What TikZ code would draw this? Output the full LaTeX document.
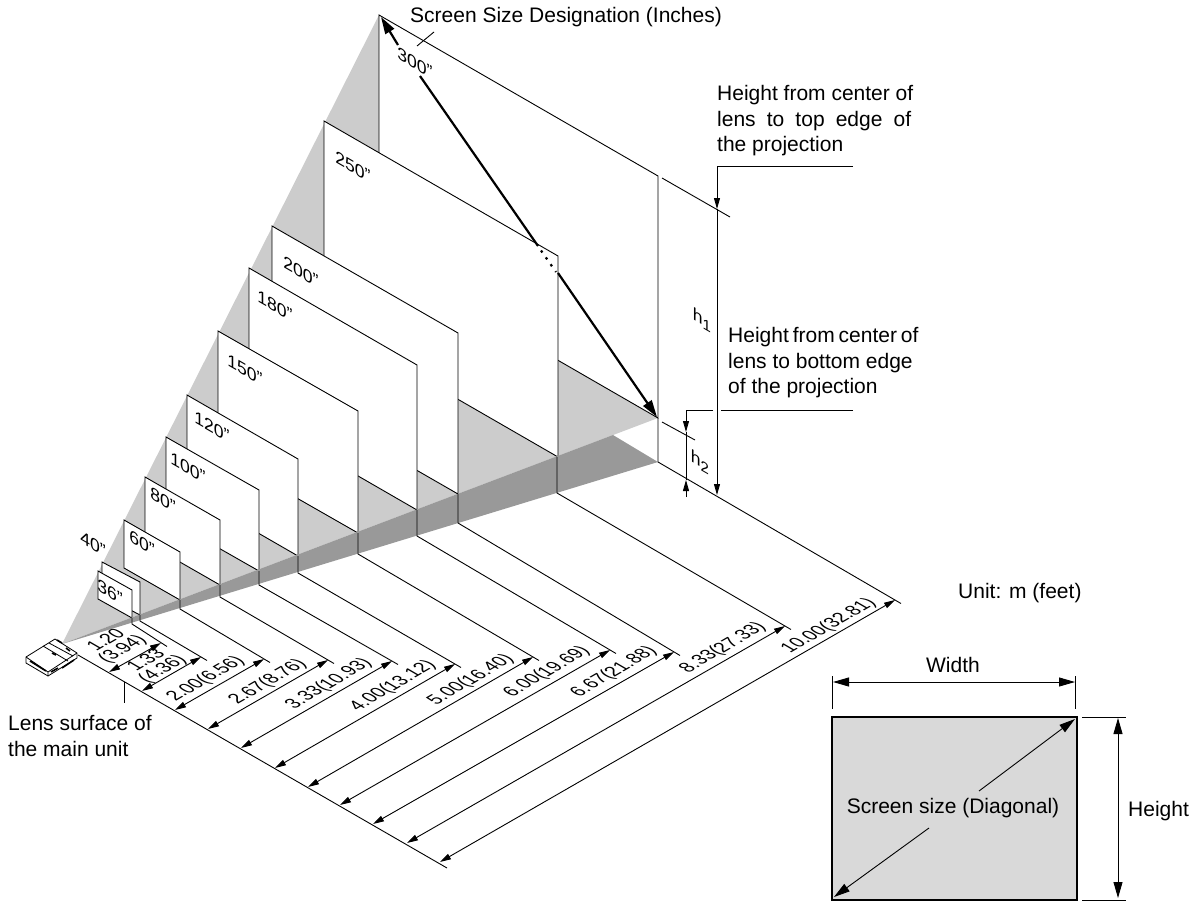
\documentclass[tikz,border=0pt]{standalone}
\usepackage{fontspec}
\setmainfont{Liberation Sans}
\usetikzlibrary{arrows.meta}

\tikzset{
    thin line/.style={line width=.9pt},
    screen face/.style={draw,fill=white,line width=.9pt,line join=miter},
    label text/.style={inner sep=0pt,align=center,font=\fontsize{17.6}{16.5}\selectfont},
    floor text/.style={label text,cm={.866,.5,-.97,.56,(0,0)}},
    wall text/.style={label text,yslant=-.577},
    note text/.style={inner sep=0pt,align=left,font=\fontsize{21}{25.5}\selectfont},
    size arrow/.style={line width=.9pt,>={Triangle[length=16pt,width=9pt]}},
    ray arrow/.style={line width=2.2pt,>={Triangle[length=17pt,width=10pt]}}
}

\begin{document}
\begin{tikzpicture}[x=1pt,y=-1pt,>={Triangle[length=11pt,width=6pt]}]
    \useasboundingbox (0,0) rectangle (1203,902);
    \coordinate (apex) at (62,644);

    % light wedge and the screens, from back to front
    \fill[black!20] (apex) -- (379,15) -- (379,257) -- (658,418) -- cycle;
    \foreach \name/\lx/\ty/\rx/\ry/\by in {
        300/379/15/658/176/418,250/324/121/558/256/457,200/272/226/458/333/494,
        180/249/268/417/365/510,150/218/331/358/411/533,120/187/395/298/459/556,
        100/166/437/259/490/571,80/145/477/220/520/585,60/124/520/180/552/600,
        40/102/562/140/582/615,36/98/571/132/590/618}
        \draw[screen face] (\lx,\ty) -- (\rx,\ry) -- (\rx,\by) -- (\lx,\ty+\by-\ry) -- cycle;
    \fill[black!40] (apex) -- (613,435) -- (658,462) -- cycle;

    % distances
    \draw[thin line] (78,655) -- (447,868);
    \draw[thin line] (124,682) -- (124,703);
    \foreach \rx/\by/\fy/\tx/\ty/\ax/\ay in {
        132/618/624/161/643/109/672,140/615/621/201/657/142/691,
        180/600/609/264/659/175/710,220/585/597/328/660/208/729,
        259/571/585/392/661/241/748,298/556/573/455/664/275/768,
        358/533/554/533/657/308/787,417/510/536/610/650/340/805,
        458/494/523/674/652/373/824,557/457/493/785/626/407/843,
        658/418/462/895/600/440/862} {
        \draw[thin line] (\rx,\by) -- (\rx,\fy) -- (\tx+6,\ty+3.5);
        \draw[thin line,<->] (\ax,\ay) -- (\tx,\ty);
    }
    \foreach \name/\lx/\ly/\dist in {
        d200/206/679/2.00(6.56),d267/268/682/2.67(8.76),d333/329/684/3.33(10.93),
        d400/393/686/4.00(13.12),d500/471/680/5.00(16.40),d600/547/672/6.00(19.69),
        d667/614/672/6.67(21.88),d833/723/648/8.33(27.33),d1000/829/626/10.00(32.81)}
        \node[floor text] (\name) at (\lx,\ly) {\dist};
    \node[floor text] (d120) at (115,645) {1.20\\(3.94)};
    \node[floor text] (d133) at (155,665) {1.33\\(4.36)};

    % screen sizes
    \foreach \lx/\ly/\size in {
        415/63/300,353/167/250,301/272/200,275/306/180,245/370/150,212/427/120,
        188/468/100,163/500/80,142/543/60,93/544/40,110/592/36}
        \node[wall text] (s\size) at (\lx,\ly) {\size"};

    % diagonal of the largest screen
    \draw[ray arrow,->] (398,45) -- (381,17);
    \draw[line width=2.2pt] (420,76) -- (538,246);
    \draw[line width=2.2pt,dash pattern=on 2.4pt off 6pt] (541,250.5) -- (556,272);
    \draw[ray arrow,->] (558,273) -- (657,417);
    \draw[thin line] (417,46) -- (434,32);
    \node[note text,anchor=west] (title) at (410,17) {Screen Size Designation (Inches)};

    % heights
    \draw[thin line] (662,178) -- (730,217);
    \draw[thin line] (662,422) -- (695,440);
    \draw[thin line,->] (853,166) -- (717,166) -- (717,209);
    \draw[thin line,->] (717,209) -- (717,495);
    \draw[thin line] (853,410) -- (721,410);
    \draw[thin line,->] (713,410) -- (686,410) -- (686,432);
    \draw[thin line] (686,432) -- (686,480);
    \draw[thin line,->] (686,497) -- (686,480);
    \node[wall text] (h1) at (702,320) {h\raisebox{-3pt}{\fontsize{15}{15}\selectfont 1}};
    \node[wall text] (h2) at (700,462) {h\raisebox{-3pt}{\fontsize{15}{15}\selectfont 2}};
    \node[note text,anchor=west] (topnote) at (717,121) {Height from center of\\\makebox[194pt][s]{lens to top edge of}\\the projection};
    \node[note text,anchor=west] (botnote) at (728,363) {\makebox[187pt][s]{Height from center of}\\lens to bottom edge\\of the projection};

    % projector
    \filldraw[fill=white,line width=.8pt] (26,657) -- (55,639) -- (77,653) -- (77,658) -- (48,676) -- (26,663) -- cycle;
    \draw[line width=.8pt] (26,657) -- (48,672) -- (77,653) (48,672) -- (48,676);
    \draw[line width=.8pt] (43,646) -- (68,661) (49,643) -- (73,656);
    \draw[line width=1.6pt] (30,661) -- (46,671) (51,672) -- (58,668) (52,653) -- (56,655) (57,640) -- (62,643) (66,648) -- (70,651) (62,668) -- (74,660);

    \node[note text,anchor=west] (unit) at (958,593) {Unit: m (feet)};
    \node[note text,anchor=west] (lens) at (8,736) {Lens surface of\\the main unit};

    % screen size box
    \draw[fill=black!15,line width=2pt] (832,717) rectangle (1077,900);
    \draw[thin line] (832,676) -- (832,709) (1075,676) -- (1075,709);
    \draw[size arrow,<->] (833,682) -- (1075,682);
    \node[note text] (width) at (953,665) {Width};
    \draw[thin line] (1082,717) -- (1126,717) (1082,900) -- (1126,900);
    \draw[size arrow,<->] (1118,718) -- (1118,898);
    \node[note text,anchor=west] (height) at (1128,811) {Height};
    \node[note text] (diag) at (953,808) {Screen size (Diagonal)};
    \draw[size arrow,->] (979,791) -- (1075,719);
    \draw[size arrow,->] (929,828) -- (834,897);
\end{tikzpicture}
\end{document}
